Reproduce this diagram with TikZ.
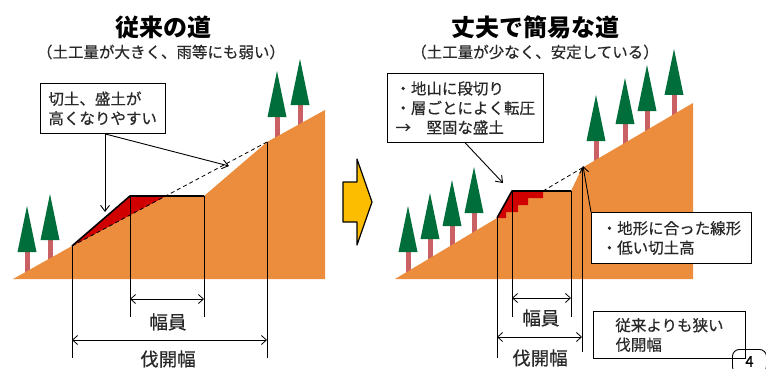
\documentclass[tikz,border=0pt]{standalone}
\usepackage{fontspec}
\newfontfamily\jp{Noto Sans CJK JP}
\newfontfamily\jpm[FakeBold=0.5]{Noto Sans CJK JP}
\usepackage{xcolor}
\usepackage{tikz}
\usetikzlibrary{arrows.meta}
\usetikzlibrary{calc}

\definecolor{tierra}{RGB}{236,141,62}
\definecolor{relleno}{RGB}{208,0,0}
\definecolor{copa}{RGB}{0,110,58}
\definecolor{tronco}{RGB}{200,96,100}
\definecolor{flecha}{RGB}{252,188,0}
\definecolor{texto}{RGB}{40,40,40}

\begin{document}
\begin{tikzpicture}[
        x=1pt, y=-1pt,
        font=\jpm,
        ground/.style={fill=tierra},
        fillsoil/.style={fill=relleno},
        road/.style={line width=1.6pt, line join=round},
        orig/.style={dash pattern=on 4pt off 3pt, line width=0.8pt},
        ext/.style={line width=0.8pt},
        dim/.style={{Straight Barb[length=5pt,width=9pt]}-{Straight Barb[length=5pt,width=9pt]}, line width=0.8pt},
        pointer/.style={-{Straight Barb[length=6pt,width=9pt]}, line width=0.9pt},
        callout/.style={draw, line width=0.9pt, fill=white, align=left, anchor=north west, text=texto,
                        inner xsep=8pt, font=\jpm\fontsize{15.5}{19.5}\selectfont},
        title/.style={font=\jp\bfseries\fontsize{24}{26}\selectfont},
        subtitle/.style={text=texto, font=\jpm\fontsize{15.5}{18}\selectfont},
        dimlabel/.style={text=texto, font=\jpm\fontsize{18.5}{20}\selectfont},
        trunk/.style={fill=tronco},
        crown/.style={fill=copa}
    ]
        \useasboundingbox (0,0) rectangle (766,369);

        % --- Camino tradicional (izquierda) ---
        \node[title] (t1) at (163,27) {従来の道};
        \node[subtitle] (s1) at (161,52) {（土工量が大きく、雨等にも弱い）};

        % Arboles
        \foreach \x/\y in {27/271, 50/259, 277/136, 300/124} {
            \fill[trunk] (\x-2.5,\y+4) rectangle (\x+2.5,\y-20);
            \fill[crown] (\x-9.5,\y-19) -- (\x,\y-65) -- (\x+9.5,\y-19) -- cycle;
        }

        % Terreno y corte
        \coordinate (A0) at (13,279);  % pie de la ladera
        \coordinate (A1) at (72,246);  % pie del terraplen
        \coordinate (A2) at (130,196); % borde exterior
        \coordinate (A3) at (204,196); % borde interior
        \coordinate (A4) at (267,142); % cabeza del desmonte
        \coordinate (A5) at (325,110);
        \coordinate (A6) at (325,279);
        \coordinate (A7) at (166,196); % cruce con el terreno original
        \fill[ground] (A0) -- (A1) -- (A2) -- (A3) -- (A4) -- (A5) -- (A6) -- cycle;
        \fill[fillsoil] (A1) -- (A2) -- (A7) -- cycle;
        \draw[orig] (A1) -- (A4);
        \draw[road] (A1) -- (A2) -- (A3);

        % Cotas
        \draw[ext] (A1) -- ++(0,112);
        \draw[ext] (A2) -- ++(0,121);
        \draw[ext] (A3) -- ++(0,121);
        \draw[ext] (A4) -- ++(0,216);
        \coordinate (w1a) at (130,299);
        \coordinate (w1b) at (204,299);
        \coordinate (b1a) at (72,340);
        \coordinate (b1b) at (267,340);
        \draw[dim] (w1a) -- (w1b);
        \draw[dim] (b1a) -- (b1b);
        \node[dimlabel] (lw1) at (168,322) {幅員};
        \node[dimlabel] (lb1) at (168,359) {伐開幅};

        % Nota
        \node[callout, minimum width=113pt, minimum height=50pt] (c1) at (40,83) {切土、盛土が\\高くなりやすい};
        \coordinate (p1) at (105,212);
        \coordinate (p2) at (229,166);
        \draw[pointer] (p1 |- c1.south) -- (p1);
        \draw[pointer] (p1 |- c1.south) -- (p2);

        % --- Flecha central ---
        \filldraw[fill=flecha, line width=1.2pt, line join=round]
            (343,182) -- (357,182) -- (357,159) -- (372,202) -- (357,245) -- (357,222) -- (343,222) -- cycle;

        % --- Camino robusto y sencillo (derecha) ---
        \node[title] (t2) at (535,27) {丈夫で簡易な道};
        \node[subtitle] (s2) at (535,52) {（土工量が少なく、安定している）};

        % Arboles
        \foreach \x/\y in {408/271, 430/258, 452/245, 474/232, 596/160, 625/143, 647/130, 674/114} {
            \fill[trunk] (\x-2.5,\y+4) rectangle (\x+2.5,\y-20);
            \fill[crown] (\x-9.5,\y-19) -- (\x,\y-65) -- (\x+9.5,\y-19) -- cycle;
        }

        % Terreno y corte
        \coordinate (B0) at (395,279);
        \coordinate (B1) at (497,218);
        \coordinate (B2) at (512,191);
        \coordinate (B3) at (571,191);
        \coordinate (B4) at (582,168);
        \coordinate (B5) at (693,103);
        \coordinate (B6) at (693,279);
        \coordinate (B7) at (543,191);
        \fill[ground] (B0) -- (B1) -- (B2) -- (B3) -- (B4) -- (B5) -- (B6) -- cycle;
        % terraplen con escalones
        \fill[fillsoil] (B1) -- (B2) -- (B7) -- (543,198) -- (528,198) -- (528,205)
            -- (518,205) -- (518,212) -- (506,212) -- (506,218) -- cycle;
        \draw[orig] (B7) -- (B4);
        \draw[road] (B1) -- (B2) -- (B3);

        % Cotas
        \draw[ext] (B1) -- ++(0,140);
        \draw[ext] (B2) -- ++(0,126);
        \draw[ext] (B3) -- ++(0,126);
        \draw[ext] (B4) -- ++(0,184);
        \coordinate (w2a) at (512,298);
        \coordinate (w2b) at (571,298);
        \coordinate (b2a) at (497,337);
        \coordinate (b2b) at (582,337);
        \draw[dim] (w2a) -- (w2b);
        \draw[dim] (b2a) -- (b2b);
        \node[dimlabel] (lw2) at (541,318) {幅員};
        \node[dimlabel] (lb2) at (540,358) {伐開幅};

        % Notas
        \node[callout, minimum width=155pt, minimum height=69pt] (c2) at (387,73) {・地山に段切り\\・層ごとによく転圧\\→　堅固な盛土};
        \node[callout, minimum width=160pt, minimum height=51pt] (c3) at (591,212) {・地形に合った線形\\・低い切土高};
        \node[callout, minimum width=152pt, minimum height=47pt] (c4) at (593,311) {従来よりも狭い\\伐開幅};
        \coordinate (p3) at (503,183);
        \coordinate (p4) at (583,166);
        \draw[pointer] (c2.south) -- (p3);
        \draw[pointer] (c3.north west) -- (p4);

        % Numero de pagina
        \node[draw, line width=0.9pt, rounded corners=7pt, anchor=north west, minimum width=34pt,
              minimum height=24pt, inner ysep=3pt, font=\jpm\fontsize{15}{16}\selectfont] (pg) at (732,349) {4};

    \end{tikzpicture}
\end{document}
